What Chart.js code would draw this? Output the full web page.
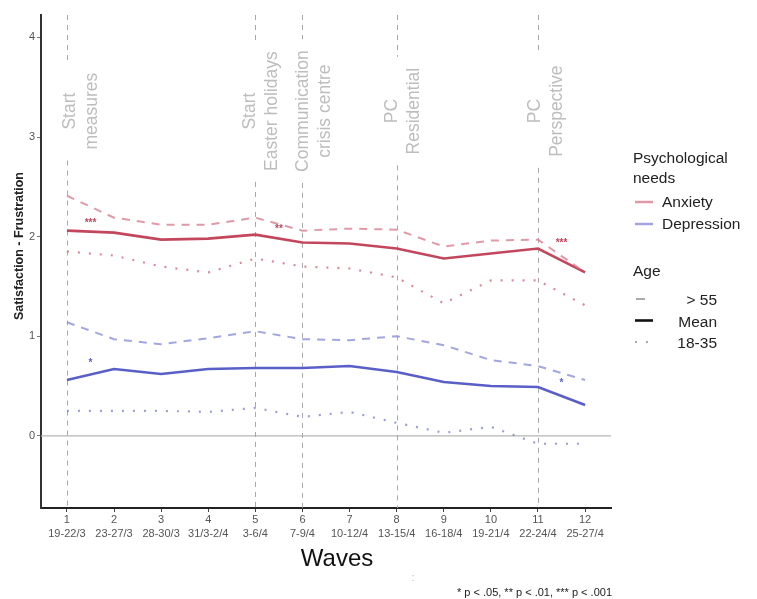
<!DOCTYPE html>
<html>
<head>
<meta charset="utf-8">
<script src="https://cdn.jsdelivr.net/npm/chart.js@4"></script>
<style>
  html, body { margin: 0; padding: 0; background: #ffffff; }
  #wrap { width: 757px; height: 599px; position: relative; }
</style>
</head>
<body>
<div id="wrap"><canvas id="c" width="757" height="599"></canvas></div>
<script>
// ---------- data ----------
const waves = [1, 2, 3, 4, 5, 6, 7, 8, 9, 10, 11, 12];
const waveDates = ['19-22/3', '23-27/3', '28-30/3', '31/3-2/4', '3-6/4', '7-9/4',
                   '10-12/4', '13-15/4', '16-18/4', '19-21/4', '22-24/4', '25-27/4'];
const yTicks = [0, 1, 2, 3, 4];

const anxietyOld      = [2.41, 2.19, 2.12, 2.12, 2.19, 2.06, 2.08, 2.07, 1.90, 1.96, 1.97, 1.64];
const anxietyMean     = [2.06, 2.04, 1.97, 1.98, 2.02, 1.94, 1.93, 1.88, 1.78, 1.83, 1.88, 1.64];
const anxietyYoung    = [1.85, 1.81, 1.70, 1.64, 1.78, 1.70, 1.68, 1.59, 1.33, 1.56, 1.56, 1.31];
const depressionOld   = [1.14, 0.97, 0.92, 0.98, 1.05, 0.97, 0.96, 1.00, 0.91, 0.76, 0.70, 0.56];
const depressionMean  = [0.56, 0.67, 0.62, 0.67, 0.68, 0.68, 0.70, 0.64, 0.54, 0.50, 0.49, 0.31];
const depressionYoung = [0.25, 0.25, 0.25, 0.24, 0.28, 0.19, 0.24, 0.13, 0.03, 0.09, -0.08, -0.08];

const eventWaves  = [1, 5, 6, 8, 11];
const eventLabels = [['Start', 'measures'], ['Start', 'Easter holidays'],
                     ['Communication', 'crisis centre'], ['PC', 'Residential'], ['PC', 'Perspective']];

const sigLabels = ['***', '**', '***', '*', '*'];
const sigNeed   = ['Anxiety', 'Anxiety', 'Anxiety', 'Depression', 'Depression'];
const sigX      = [1.5, 5.5, 11.5, 1.5, 11.5];
const sigY      = [2.13, 2.07, 1.93, 0.73, 0.53];

const needNames = ['Anxiety', 'Depression'];
const ageNames  = ['> 55', 'Mean', '18-35'];

// ---------- styles ----------
const FONT = '"Liberation Sans", Arial, Helvetica, sans-serif';
const RED = '#c2475d', RED_LIGHT = 'rgba(214,120,138,0.75)', RED_DOT = 'rgba(205,110,128,0.8)';
const BLUE = '#5a5fc7', BLUE_LIGHT = 'rgba(140,144,214,0.8)', BLUE_DOT = 'rgba(130,134,200,0.8)';
const needColor = { Anxiety: RED, Depression: BLUE };

function pts(arr) { return waves.map((w, i) => ({ x: w, y: arr[i] })); }
function ds(label, arr, color, kind) {
  const d = { label, data: pts(arr), borderColor: color, backgroundColor: color,
              pointRadius: 0, tension: 0, fill: false, borderCapStyle: 'butt' };
  if (kind === 'solid') { d.borderWidth = 2.6; }
  if (kind === 'dash')  { d.borderWidth = 2; d.borderDash = [8, 7]; }
  if (kind === 'dot')   { d.borderWidth = 2.2; d.borderDash = [2, 9]; }
  return d;
}

// offsets (px) of each event's text baselines relative to its line
const eventTextShift = [7, -1, 5, -1, 1];
const eventTextCenterValue = 3.26;

const backgroundPlugin = {
  id: 'bgAnno',
  beforeDatasetsDraw(chart) {
    const { ctx, chartArea: ca, scales: { x, y } } = chart;
    ctx.save();
    // zero line
    ctx.strokeStyle = '#b5b5b5';
    ctx.lineWidth = 1.2;
    ctx.beginPath();
    ctx.moveTo(ca.left, y.getPixelForValue(0));
    ctx.lineTo(ca.right, y.getPixelForValue(0));
    ctx.stroke();
    // event lines + texts
    ctx.font = '17.5px ' + FONT;
    const cy = y.getPixelForValue(eventTextCenterValue);
    eventWaves.forEach((w, i) => {
      const px = Math.round(x.getPixelForValue(w)) + 0.5;
      const lines = eventLabels[i];
      const maxW = Math.max(...lines.map(t => ctx.measureText(t).width));
      const gapTop = cy - maxW / 2 - 11;
      const gapBot = cy + maxW / 2 + 11;
      ctx.strokeStyle = '#a8a8a8';
      ctx.lineWidth = 1;
      ctx.setLineDash([5, 5]);
      ctx.beginPath();
      ctx.moveTo(px, ca.top); ctx.lineTo(px, gapTop);
      ctx.moveTo(px, gapBot); ctx.lineTo(px, ca.bottom);
      ctx.stroke();
      ctx.setLineDash([]);
      // rotated text
      ctx.save();
      ctx.translate(px + eventTextShift[i], cy);
      ctx.rotate(-Math.PI / 2);
      ctx.fillStyle = '#bdbdbd';
      ctx.textAlign = 'center';
      ctx.textBaseline = 'alphabetic';
      lines.forEach((t, k) => { ctx.fillText(t, 0, k * 22); });
      ctx.restore();
    });
    ctx.restore();
  },
  afterDatasetsDraw(chart) {
    const { ctx, scales: { x, y } } = chart;
    ctx.save();
    ctx.font = 'bold 10px ' + FONT;
    ctx.textAlign = 'center';
    ctx.textBaseline = 'middle';
    sigLabels.forEach((s, i) => {
      ctx.fillStyle = needColor[sigNeed[i]];
      ctx.fillText(s, x.getPixelForValue(sigX[i]), y.getPixelForValue(sigY[i]));
    });
    ctx.restore();
  },
  afterDraw(chart) {
    const { ctx, chartArea: ca } = chart;
    ctx.save();
    // y title
    ctx.save();
    ctx.translate(20, 246);
    ctx.rotate(-Math.PI / 2);
    ctx.font = 'bold 12.5px ' + FONT;
    ctx.fillStyle = '#222';
    ctx.textAlign = 'center';
    ctx.textBaseline = 'middle';
    ctx.fillText('Satisfaction - Frustration', 0, 0);
    ctx.restore();
    // x title
    ctx.font = '24px ' + FONT;
    ctx.fillStyle = '#111';
    ctx.textAlign = 'center';
    ctx.textBaseline = 'middle';
    ctx.fillText('Waves', (ca.left + ca.right) / 2 + 11, 559);
    // footnote
    ctx.font = '11px ' + FONT;
    ctx.fillStyle = '#222';
    ctx.textAlign = 'right';
    ctx.fillText('* p < .05, ** p < .01, *** p < .001', 612, 593);
    ctx.fillStyle = '#bbb';
    ctx.textAlign = 'center';
    ctx.fillText(':', 413, 578);

    // legend
    const lx = 633;
    ctx.textAlign = 'left';
    ctx.fillStyle = '#222';
    ctx.font = '15.5px ' + FONT;
    ctx.textBaseline = 'alphabetic';
    ctx.fillText('Psychological', lx, 163);
    ctx.fillText('needs', lx, 183);
    ctx.textBaseline = 'middle';
    const needCols = [RED_LIGHT, BLUE_LIGHT];
    needNames.forEach((n, i) => {
      const yy = 202 + i * 22;
      ctx.strokeStyle = needCols[i];
      ctx.lineWidth = 2.5;
      ctx.beginPath(); ctx.moveTo(635, yy); ctx.lineTo(653, yy); ctx.stroke();
      ctx.fillStyle = '#222';
      ctx.fillText(n, 662, yy + 1);
    });
    ctx.fillText('Age', lx, 272);
    // age keys
    ctx.textAlign = 'right';
    ageNames.forEach((n, i) => {
      const yy = 299 + i * 21.5;
      ctx.beginPath();
      if (i === 0) { ctx.strokeStyle = '#aaa'; ctx.lineWidth = 2; ctx.moveTo(636, yy); ctx.lineTo(645, yy); ctx.stroke(); }
      if (i === 1) { ctx.strokeStyle = '#111'; ctx.lineWidth = 2.6; ctx.moveTo(635, yy); ctx.lineTo(653, yy); ctx.stroke(); }
      if (i === 2) { ctx.fillStyle = '#aaa'; ctx.fillRect(635, yy - 1, 2, 2); ctx.fillRect(646, yy - 1, 2, 2); }
      ctx.fillStyle = '#222';
      ctx.fillText(n, 717, yy + 2);
    });
    ctx.restore();
  }
};

new Chart(document.getElementById('c'), {
  type: 'line',
  data: {
    datasets: [
      ds('Anxiety > 55', anxietyOld, RED_LIGHT, 'dash'),
      ds('Anxiety 18-35', anxietyYoung, RED_DOT, 'dot'),
      ds('Depression > 55', depressionOld, BLUE_LIGHT, 'dash'),
      ds('Depression 18-35', depressionYoung, BLUE_DOT, 'dot'),
      ds('Anxiety Mean', anxietyMean, RED, 'solid'),
      ds('Depression Mean', depressionMean, BLUE, 'solid')
    ]
  },
  options: {
    responsive: false,
    animation: false,
    devicePixelRatio: 1,
    layout: { padding: { left: 0, right: 146, top: 15, bottom: 0 } },
    plugins: { legend: { display: false }, tooltip: { enabled: false }, title: { display: false } },
    scales: {
      x: {
        type: 'linear', min: 0.45, max: 12.55,
        afterBuildTicks: s => { s.ticks = waves.map(v => ({ value: v })); },
        afterFit: s => { s.height = 91; },
        ticks: {
          autoSkip: false, maxRotation: 0, padding: 1,
          color: '#555', font: { family: FONT, size: 11, lineHeight: 1.25 },
          callback: v => { const i = waves.indexOf(v); return i < 0 ? '' : [String(v), waveDates[i]]; }
        },
        grid: { drawOnChartArea: false, drawTicks: true, tickLength: 4, color: '#444' },
        border: { display: true, color: '#222', width: 2 }
      },
      y: {
        type: 'linear', min: -0.725, max: 4.225,
        afterBuildTicks: s => { s.ticks = yTicks.map(v => ({ value: v })); },
        afterFit: s => { s.width = 41; },
        ticks: { padding: 2, color: '#555', font: { family: FONT, size: 11 }, callback: v => String(v) },
        grid: { drawOnChartArea: false, drawTicks: true, tickLength: 4, color: '#777' },
        border: { display: true, color: '#333', width: 2 }
      }
    }
  },
  plugins: [backgroundPlugin]
});
</script>
</body>
</html>
